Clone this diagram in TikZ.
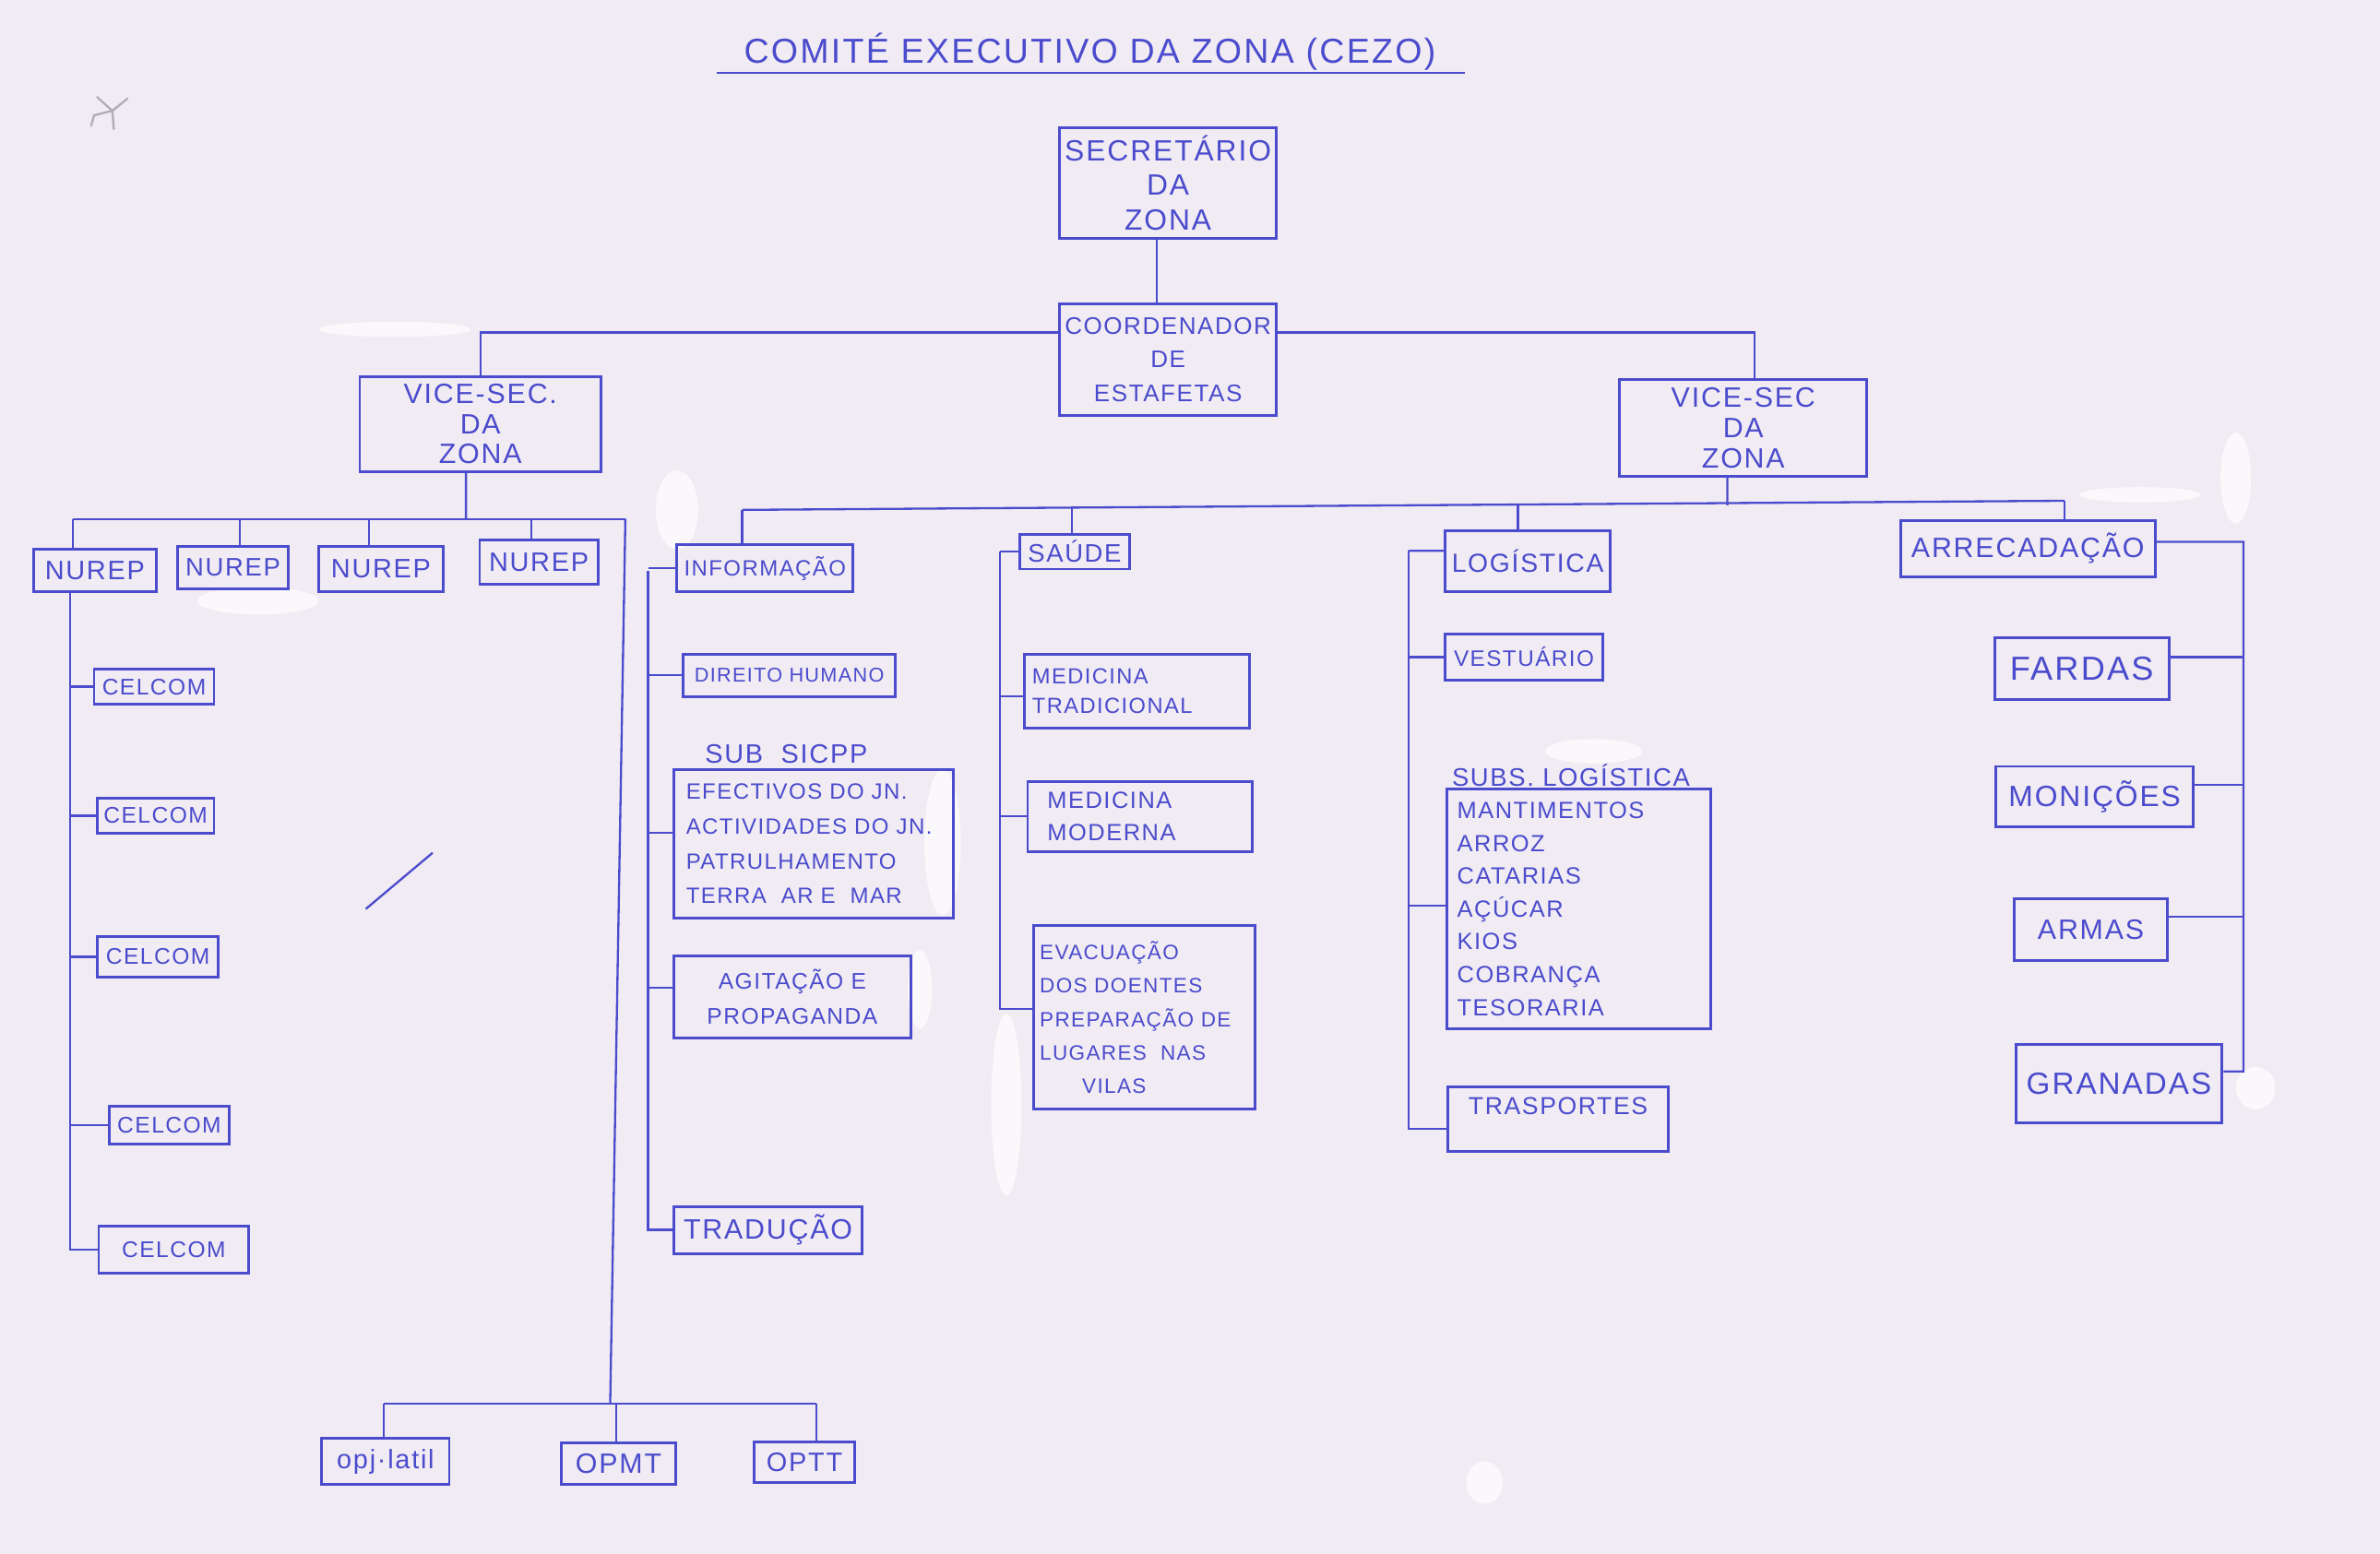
\documentclass[tikz,border=0pt]{standalone}
\usepackage{fontspec}
\setmainfont{Liberation Sans}[LetterSpace=6]
\definecolor{ink}{RGB}{75,75,205}
\definecolor{paper}{RGB}{241,236,243}
\definecolor{pencil}{RGB}{178,172,182}
\definecolor{whiteout}{RGB}{252,251,252}
\newcommand\fsz[2]{\fontsize{#1}{#2}\selectfont}
\begin{document}
\begin{tikzpicture}[x=0.02cm,y=-0.02cm,
  box/.style={draw=ink, line width=1pt, inner sep=0pt, text=ink, align=center},
  conn/.style={draw=ink, line width=0.8pt},
  lbl/.style={text=ink, inner sep=0pt, align=center},
  blob/.style={fill=whiteout, opacity=0.85}]
\useasboundingbox (0,0) rectangle (1568,1024);
\fill[paper] (0,0) rectangle (1568,1024);

% correction-fluid patches on the paper
\fill[blob] (260,217) ellipse [x radius=50, y radius=5];
\fill[blob] (446,336) ellipse [x radius=14, y radius=26];
\fill[blob] (621,555) ellipse [x radius=12, y radius=48];
\fill[blob] (606,652) ellipse [x radius=8, y radius=26];
\fill[blob] (663,728) ellipse [x radius=10, y radius=60];
\fill[blob] (1473,315) ellipse [x radius=10, y radius=30];
\fill[blob] (1486,717) ellipse [x radius=13, y radius=14];
\fill[blob] (978,977) ellipse [x radius=12, y radius=14];
\fill[blob] (1050,495) ellipse [x radius=32, y radius=8];
\fill[blob] (170,396) ellipse [x radius=40, y radius=9];
\fill[blob] (1410,326) ellipse [x radius=40, y radius=5];

% faint pencil mark
\draw[pencil, line width=0.8pt, line cap=round] (64,64) -- (74,73) -- (84,65) (74,73) -- (75,85) (60,83) -- (62,76) -- (74,73);

% title
\node[lbl, font=\fsz{13}{15}] (title) at (718,34) {COMITÉ EXECUTIVO DA ZONA (CEZO)};
\draw[conn] (472,48) -- (965,48);

% top
\node[box, minimum width=2.86cm, minimum height=1.46cm, font=\fsz{11}{13}] (sec) at (769.5,120.5) {SECRETÁRIO\\DA\\ZONA};
\node[box, minimum width=2.86cm, minimum height=1.48cm, font=\fsz{9}{12.5}] (coord) at (769.5,237) {COORDENADOR\\DE\\ESTAFETAS};
\node[box, minimum width=3.18cm, minimum height=1.26cm, font=\fsz{10.5}{11.2}] (vl) at (316.5,279.5) {VICE-SEC.\\DA\\ZONA};
\node[box, minimum width=3.26cm, minimum height=1.28cm, font=\fsz{10.5}{11.5}] (vr) at (1148.5,282) {VICE-SEC\\DA\\ZONA};

% left branch
\node[box, minimum width=1.62cm, minimum height=0.56cm, font=\fsz{10}{12}] (n1) at (62.5,376) {NUREP};
\node[box, minimum width=1.46cm, minimum height=0.56cm, font=\fsz{9.5}{12}] (n2) at (153.5,374) {NUREP};
\node[box, minimum width=1.64cm, minimum height=0.60cm, font=\fsz{10}{12}] (n3) at (251,375) {NUREP};
\node[box, minimum width=1.56cm, minimum height=0.58cm, font=\fsz{10}{12}] (n4) at (355,370.5) {NUREP};

\node[box, minimum width=1.58cm, minimum height=0.46cm, font=\fsz{8.5}{10}] (c1) at (101.5,452.5) {CELCOM};
\node[box, minimum width=1.54cm, minimum height=0.46cm, font=\fsz{8.5}{10}] (c2) at (102.5,537.5) {CELCOM};
\node[box, minimum width=1.60cm, minimum height=0.54cm, font=\fsz{8.5}{10}] (c3) at (104,630.5) {CELCOM};
\node[box, minimum width=1.58cm, minimum height=0.50cm, font=\fsz{8.5}{10}] (c4) at (111.5,741.5) {CELCOM};
\node[box, minimum width=1.98cm, minimum height=0.62cm, font=\fsz{8.5}{10}] (c5) at (114.5,823.5) {CELCOM};

\node[box, minimum width=1.68cm, minimum height=0.60cm, font=\fsz{10}{12}] (o1) at (254,963) {opj·latil};
\node[box, minimum width=1.50cm, minimum height=0.54cm, font=\fsz{10.5}{12}] (o2) at (407.5,964.5) {OPMT};
\node[box, minimum width=1.32cm, minimum height=0.54cm, font=\fsz{10}{12}] (o3) at (530,963.5) {OPTT};

% column informacao
\node[box, minimum width=2.32cm, minimum height=0.62cm, font=\fsz{8.3}{10}] (inf) at (504,374.5) {INFORMAÇÃO};
\node[box, minimum width=2.80cm, minimum height=0.56cm, font=\fsz{7.5}{9}] (dh) at (520,445) {DIREITO HUMANO};
\node[lbl, font=\fsz{10}{12}] (subsicpp) at (518,497) {SUB~~SICPP};
\node[box, minimum width=3.68cm, minimum height=1.96cm, text width=3.36cm, align=left, font=\fsz{8.3}{13}] (sic) at (536,556) {EFECTIVOS DO JN.\\ACTIVIDADES DO JN.\\PATRULHAMENTO\\TERRA~~AR E~~MAR};
\node[box, minimum width=3.12cm, minimum height=1.08cm, font=\fsz{8.5}{13}] (agit) at (522,657) {AGITAÇÃO E\\PROPAGANDA};
\node[box, minimum width=2.48cm, minimum height=0.62cm, font=\fsz{10.5}{12}] (trad) at (506,810.5) {TRADUÇÃO};

% column saude
\node[box, minimum width=1.44cm, minimum height=0.46cm, font=\fsz{9.5}{11}] (sau) at (708,363.5) {SAÚDE};
\node[box, minimum width=2.96cm, minimum height=0.98cm, text width=2.76cm, align=left, font=\fsz{8.2}{11}] (mt) at (749,455.5) {MEDICINA\\TRADICIONAL};
\node[box, minimum width=2.96cm, minimum height=0.92cm, text width=2.44cm, align=left, font=\fsz{8.8}{12}] (mm) at (751,538) {MEDICINA\\MODERNA};
\node[box, minimum width=2.92cm, minimum height=2.42cm, text width=2.76cm, align=left, font=\fsz{7.8}{12.6}] (ev) at (754,670.5) {EVACUAÇÃO\\DOS DOENTES\\PREPARAÇÃO DE\\LUGARES~~NAS\\\hspace*{0.56cm}VILAS};

% column logistica
\node[box, minimum width=2.18cm, minimum height=0.80cm, font=\fsz{9.8}{12}] (log) at (1006.5,370) {LOGÍSTICA};
\node[box, minimum width=2.08cm, minimum height=0.60cm, font=\fsz{8.4}{10}] (ves) at (1004,433) {VESTUÁRIO};
\node[lbl, font=\fsz{9.5}{11}] (subslog) at (1035,511) {SUBS. LOGÍSTICA};
\node[box, minimum width=3.48cm, minimum height=3.16cm, text width=3.2cm, align=left, font=\fsz{8.8}{12.3}] (subs) at (1040,599) {MANTIMENTOS\\ARROZ\\CATARIAS\\AÇÚCAR\\KIOS\\COBRANÇA\\TESORARIA};
\node[box, minimum width=2.90cm, minimum height=0.86cm, font=\fsz{9.2}{11}] (tra) at (1026.5,737.5) {\raisebox{0.34cm}{TRASPORTES}};

% column arrecadacao
\node[box, minimum width=3.36cm, minimum height=0.74cm, font=\fsz{10.5}{12}] (arr) at (1336,361.5) {ARRECADAÇÃO};
\node[box, minimum width=2.30cm, minimum height=0.82cm, font=\fsz{12.5}{14}] (far) at (1371.5,440.5) {FARDAS};
\node[box, minimum width=2.60cm, minimum height=0.80cm, font=\fsz{11}{13}] (mon) at (1380,525) {MONIÇÕES};
\node[box, minimum width=2.02cm, minimum height=0.82cm, font=\fsz{10.5}{12}] (arm) at (1377.5,612.5) {ARMAS};
\node[box, minimum width=2.72cm, minimum height=1.04cm, font=\fsz{11.5}{13}] (gra) at (1396,714) {GRANADAS};

% ---- connectors ----
\draw[conn] ([xshift=-0.15cm]sec.south) -- ([xshift=-0.15cm]coord.north);
\draw[conn] ([yshift=0.36cm]coord.west) -| (vl.north);
\draw[conn] ([yshift=0.36cm]coord.east) -| ([xshift=0.15cm]vr.north);

% left bus
\coordinate (lbL) at (48,342);
\coordinate (lbJ) at (307,342);
\coordinate (lbR) at (412,342);
\coordinate (d2) at (158,342);
\coordinate (d3) at (243,342);
\coordinate (d4) at (350,342);
\draw[conn] ([xshift=-0.19cm]vl.south) -- (lbJ);
\draw[conn] (lbL) -- (lbR);
\draw[conn] (lbL) -- (lbL |- n1.north);
\draw[conn] (d2) -- (d2 |- n2.north);
\draw[conn] (d3) -- (d3 |- n3.north);
\draw[conn] (d4) -- (d4 |- n4.north);

% celcom spine
\coordinate (cs) at (46,390);
\draw[conn] (cs) |- (c5.west);
\foreach \c in {c1,c2,c3,c4} \draw[conn] (\c.west) -- (\c.west -| cs);

% down to bottom bus
\coordinate (lbB) at (402,925);
\coordinate (bbL) at (253,925);
\coordinate (bbM) at (406,925);
\coordinate (bbR) at (538,925);
\draw[conn] (lbR) -- (lbB);
\draw[conn] (bbL) -- (bbR);
\draw[conn] (bbL) -- (bbL |- o1.north);
\draw[conn] (bbM) -- (bbM |- o2.north);
\draw[conn] (bbR) -- (bbR |- o3.north);

% stray stroke
\draw[conn] (241,599) -- (285,562);

% right bus
\coordinate (rbL) at (489,336);
\coordinate (rbJ) at (1138,333);
\coordinate (rbS) at (706,335);
\coordinate (rbG) at (1000,332);
\coordinate (rbR) at (1360,330);
\draw[conn] ([xshift=-0.21cm]vr.south) -- (rbJ);
\draw[conn] (rbL) -- (rbR);
\draw[conn] (rbL) -- (rbL |- inf.north);
\draw[conn] (rbS) -- (rbS |- sau.north);
\draw[conn] (rbG) -- (rbG |- log.north);
\draw[conn] (rbR) -- (rbR |- arr.north);

% column 1 spine
\coordinate (s1) at (427,376);
\draw[conn] (s1) |- (trad.west);
\draw[conn] (inf.west) -- (inf.west -| s1);
\draw[conn] (dh.west) -- (dh.west -| s1);
\draw[conn] ([yshift=0.14cm]sic.west) -- ([yshift=0.14cm]sic.west -| s1);
\draw[conn] ([yshift=0.12cm]agit.west) -- ([yshift=0.12cm]agit.west -| s1);

% column 2 spine
\coordinate (s2) at (659,363.5);
\draw[conn] (s2) |- ([yshift=0.11cm]ev.west);
\draw[conn] (sau.west) -- (sau.west -| s2);
\draw[conn] ([yshift=-0.07cm]mt.west) -- ([yshift=-0.07cm]mt.west -| s2);
\draw[conn] (mm.west) -- (mm.west -| s2);

% column 3 spine
\coordinate (s3) at (928,363);
\draw[conn] (s3) |- ([yshift=-0.13cm]tra.west);
\draw[conn] ([yshift=0.14cm]log.west) -- (s3);
\draw[conn] (ves.west) -- (ves.west -| s3);
\draw[conn] ([yshift=0.04cm]subs.west) -- ([yshift=0.04cm]subs.west -| s3);

% column 4 spine
\coordinate (s4) at (1478,357);
\draw[conn] ([yshift=0.09cm]arr.east) -- (s4) |- ([yshift=0.16cm]gra.east);
\draw[conn] ([yshift=0.15cm]far.east) -- ([yshift=0.15cm]far.east -| s4);
\draw[conn] ([yshift=0.16cm]mon.east) -- ([yshift=0.16cm]mon.east -| s4);
\draw[conn] ([yshift=0.17cm]arm.east) -- ([yshift=0.17cm]arm.east -| s4);
\end{tikzpicture}
\end{document}
